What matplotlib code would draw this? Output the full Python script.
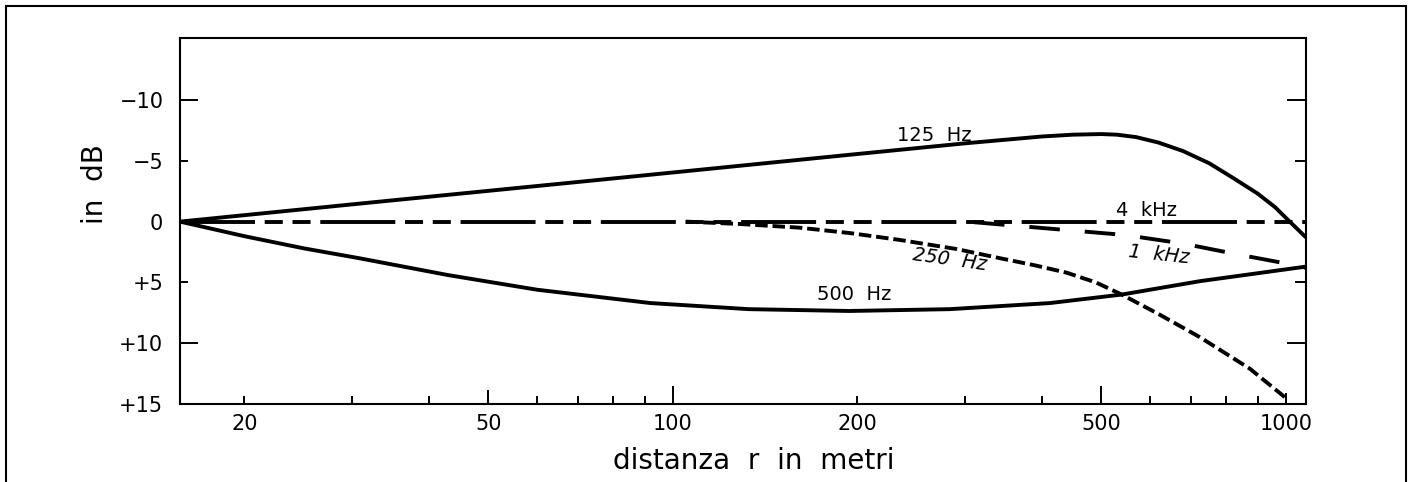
import matplotlib
matplotlib.use("Agg")
import matplotlib.pyplot as plt
from matplotlib.patches import Rectangle

plt.rcParams['lines.scale_dashes'] = False
FONT = ['DejaVu Sans']
plt.rcParams['font.family'] = FONT

# ---- data ----
x_125 = [15.7, 20, 30, 50, 70, 100, 150, 200, 300, 400, 450, 500, 530, 570, 620, 680, 750, 820, 900, 960, 1015, 1079]
y_125 = [0, -0.53, -1.42, -2.53, -3.26, -4.04, -4.93, -5.56, -6.44, -7.0, -7.15, -7.2, -7.15, -6.95, -6.5, -5.8, -4.8, -3.6, -2.3, -1.2, 0, 1.3]

x_4k = [15.7, 1079]
y_4k = [0, 0]

x_1k = [310, 417, 546, 679, 835, 1015, 1079]
y_1k = [0.05, 0.6, 1.1, 1.8, 2.7, 3.5, 3.8]

x_250 = [105, 129, 161, 195, 234, 290, 341, 390, 439, 490, 540, 620, 724, 874, 1000]
y_250 = [0, 0.2, 0.5, 0.95, 1.5, 2.25, 3.0, 3.6, 4.2, 5.0, 6.0, 7.6, 9.5, 12.1, 14.5]

x_500 = [15.7, 20, 25, 30.7, 43, 60, 92, 133, 194, 283, 412, 540, 724, 1079]
y_500 = [0, 1.2, 2.2, 3.0, 4.4, 5.6, 6.7, 7.2, 7.35, 7.2, 6.7, 6.0, 4.9, 3.7]

xticks = [20, 50, 100, 200, 500, 1000]
xtick_labels = ['20', '50', '100', '200', '500', '1000']
xminor = [30, 40, 60, 70, 80, 90, 300, 400, 600, 700, 800, 900]
yticks = [-10, -5, 0, 5, 10, 15]
ytick_labels = ['\u221210', '\u22125', '0', '+5', '+10', '+15']

labels = [("125  Hz", 267, -7.1, 0, 'normal'),
          ("4  kHz", 593, -0.95, 0, 'normal'),
          ("1  kHz", 622, 2.75, -6, 'italic'),
          ("250  Hz", 283, 3.1, -8, 'italic'),
          ("500  Hz", 198, 6.0, 0, 'normal')]

# ---- figure ----
W, H = 1411, 482
fig = plt.figure(figsize=(W / 100, H / 100), dpi=100)
ax = fig.add_axes([180 / W, 1 - 404 / H, (1306 - 180) / W, (404 - 38) / H])

lw = 2.8
ax.plot(x_125, y_125, color='black', lw=lw, solid_capstyle='butt', solid_joinstyle='round')
ax.plot(x_500, y_500, color='black', lw=lw, solid_capstyle='butt', solid_joinstyle='round')
ax.plot(x_4k, y_4k, color='black', lw=lw, linestyle=(0, (54, 7, 13, 7, 13, 7)))
ax.plot(x_1k, y_1k, color='black', lw=lw, linestyle=(0, (22, 18)))
ax.plot(x_250, y_250, color='black', lw=lw, linestyle=(0, (9, 3.5)))

ax.set_xscale('log')
ax.set_xlim(15.7, 1079)
ax.set_ylim(15, -15.1)

ax.set_xticks(xticks)
ax.set_xticklabels(xtick_labels)
ax.set_xticks(xminor, minor=True)
ax.set_xticklabels([], minor=True)
ax.set_yticks(yticks)
ax.set_yticklabels(ytick_labels)

ax.tick_params(axis='both', which='both', direction='in', width=1.4, colors='black',
               labelsize=15)
ax.tick_params(axis='y', which='both', right=True, pad=12)
ax.tick_params(axis='x', which='major', pad=7)
ax.tick_params(axis='x', which='minor', length=6)

xlen = {20: 6, 50: 10, 100: 13, 200: 6, 500: 13, 1000: 8}
for t, v in zip(ax.xaxis.get_major_ticks(), xticks):
    t.tick1line.set_markersize(xlen[v])
ylen = {-10: 13, -5: 5.5, 0: 0, 5: 5.5, 10: 13, 15: 0}
ylen_r = {-10: 14, -5: 8, 0: 0, 5: 8, 10: 14, 15: 0}
for t, v in zip(ax.yaxis.get_major_ticks(), yticks):
    t.tick1line.set_markersize(ylen[v])
    t.tick2line.set_markersize(ylen_r[v])

for s in ax.spines.values():
    s.set_linewidth(1.5)

for txt, xx, yy, rot, st in labels:
    ax.text(xx, yy, txt, ha='center', va='center', fontsize=14, rotation=rot,
            style=st, family=FONT)

fig.text(754 / W, 1 - 461 / H, "distanza  r  in  metri", ha='center', va='center',
         fontsize=20, family=FONT)
fig.text(95 / W, 1 - 184 / H, "in  dB", ha='center', va='center', rotation=90,
         fontsize=20, family=FONT)

fig.patches.append(Rectangle((6 / W, -0.05), (1406 - 6) / W, 1.05 - 6 / H,
                             transform=fig.transFigure, fill=False, lw=1.5,
                             edgecolor='black'))

fig.savefig('out.png', dpi=100)
